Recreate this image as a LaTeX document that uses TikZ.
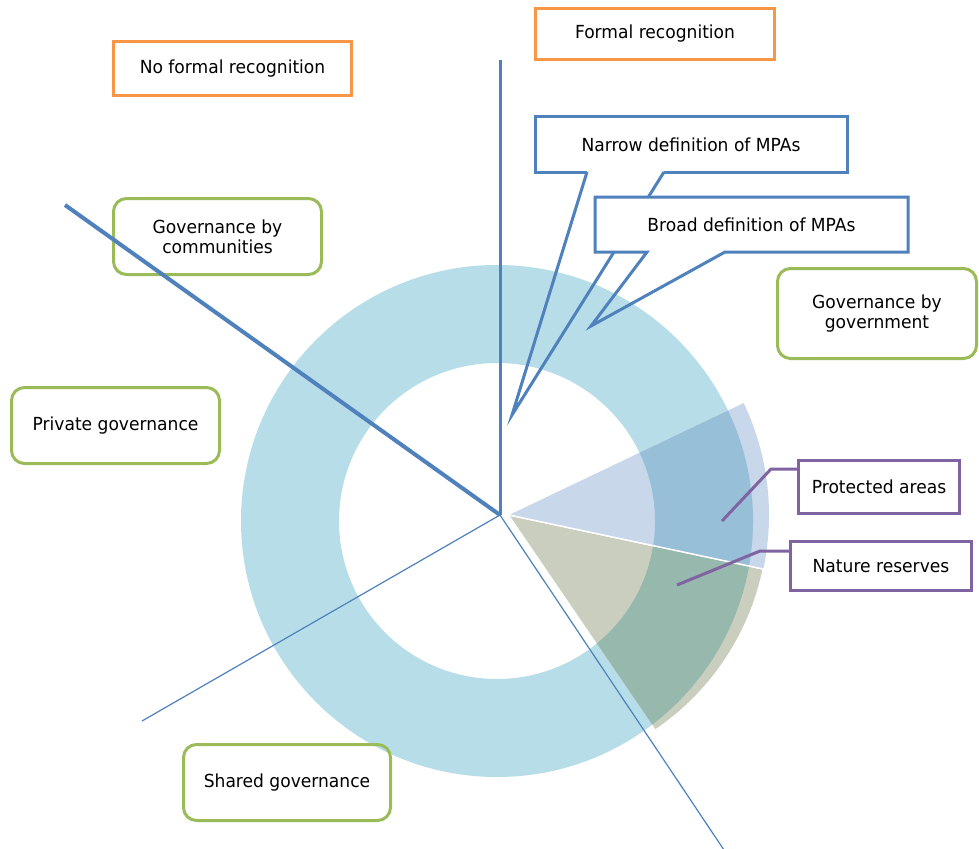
\documentclass[tikz,border=0pt]{standalone}
\usepackage{fontspec}
\setmainfont{DejaVu Sans}[FakeStretch=0.95]
\definecolor{ringc}{HTML}{B7DEE8}
\definecolor{lav}{HTML}{C8D7EA}
\definecolor{lavd}{HTML}{98BFD8}
\definecolor{grn}{HTML}{C9CEBE}
\definecolor{grnd}{HTML}{97B8AD}
\definecolor{mblue}{HTML}{4F81BD}
\definecolor{morange}{HTML}{F79646}
\definecolor{mgreen}{HTML}{9BBB59}
\definecolor{mpurple}{HTML}{8064A2}
\tikzset{
  lbl/.style={font=\fontsize{18}{20}\selectfont, align=center, inner sep=0pt},
  obox/.style={lbl, draw=morange, line width=3pt},
  gbox/.style={lbl, draw=mgreen, line width=3pt, rounded corners=13pt},
  pbox/.style={lbl, draw=mpurple, line width=3pt},
  callout/.style={draw=mblue, line width=3pt, line join=miter},
  axthick/.style={draw=mblue, line width=3pt},
  axthin/.style={draw=mblue, line width=1.2pt},
  leader/.style={draw=mpurple, line width=3pt},
}
\begin{document}
\begin{tikzpicture}[x=1pt, y=-1pt]
\clip (0,0) rectangle (979,848);
\fill[white] (0,0) rectangle (979,848);
% ring
\fill[ringc, even odd rule] (497,521) circle (256pt) (497,521) circle (158pt);
% protected areas wedge
\fill[lav] (509,515) -- ++(25.5:260pt) arc[start angle=25.5, end angle=-12, radius=260pt] -- cycle;
\begin{scope}
  \clip (509,515) -- ++(25.5:260pt) arc[start angle=25.5, end angle=-12, radius=260pt] -- cycle;
  \fill[lavd, even odd rule] (497,521) circle (256pt) (497,521) circle (158pt);
\end{scope}
% nature reserves wedge
\fill[grn] (510,516) -- ++(-12:258pt) arc[start angle=-12, end angle=-55.7, radius=258pt] -- cycle;
\begin{scope}
  \clip (510,516) -- ++(-12:258pt) arc[start angle=-12, end angle=-55.7, radius=258pt] -- cycle;
  \fill[grnd, even odd rule] (497,521) circle (256pt) (497,521) circle (158pt);
\end{scope}
\draw[white, line width=1.5pt] (509,515) -- ++(-12:264pt);

% boxes
\node[obox, minimum width=238pt, minimum height=54pt] (nofr) at (232.5,68.5) {No formal recognition};
\node[obox, minimum width=239pt, minimum height=51pt] (fr) at (655,34) {Formal recognition};
\node[gbox, minimum width=208pt, minimum height=76pt] (gcom) at (217.5,236.5) {Governance by\\communities};
\node[gbox, minimum width=208pt, minimum height=76pt] (gpriv) at (115.5,425.5) {Private governance};
\node[gbox, minimum width=199pt, minimum height=90pt] (ggov) at (877,313.5) {Governance by\\government};
\node[gbox, minimum width=207pt, minimum height=76pt] (gsh) at (287,782.5) {Shared governance};

% axes
\coordinate (c0) at (500,515);
\coordinate (top) at (500,60);
\coordinate (nw) at (65,205);
\coordinate (sw) at (142,721);
\coordinate (se) at (724,850);
\draw[axthick] (c0) -- (top);
\draw[mblue, line width=4pt] (c0) -- (nw);
\draw[axthin] (c0) -- (sw);
\draw[axthin] (c0) -- (se);

% narrow callout
\coordinate (ntip) at (512,415);
\draw[callout, fill=white] (587,172) -- (535,172) -- (535,117) -- (847,117) -- (847,172) -- (664,172);
\draw[callout] (587,172) -- (ntip) -- (664,172);
\node[lbl] (narrow) at (691,145) {Narrow definition of MPAs};
% broad callout
\coordinate (btip) at (591,326);
\fill[white] (595,197) rectangle (908,252);
\draw[callout] (647,252) -- (595,252) -- (595,197) -- (908,197) -- (908,252) -- (725,252) -- (btip) -- cycle;
\node[lbl] (broad) at (751.5,225) {Broad definition of MPAs};

% purple labels
\node[pbox, minimum width=161pt, minimum height=53pt, fill=white] (pa) at (879,487) {Protected areas};
\node[pbox, minimum width=181pt, minimum height=49pt, fill=white] (nr) at (881,566) {Nature reserves};
\coordinate (pap) at (722,521);
\coordinate (nrp) at (677,585);
\draw[leader] (pap) -- (771,469) -- ([yshift=18pt]pa.west);
\draw[leader] (nrp) -- (760,551) -- ([yshift=15pt]nr.west);
\end{tikzpicture}
\end{document}
